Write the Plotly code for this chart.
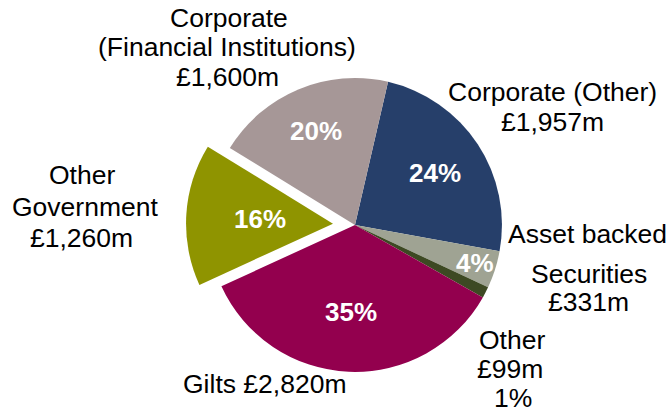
import math
import plotly.graph_objects as go

# ---- data ----
categories = ["Corporate (Other)", "Asset backed Securities", "Other", "Gilts",
              "Other Government", "Corporate (Financial Institutions)"]
values = [1957, 331, 99, 2820, 1260, 1600]
colors = ["#263F6A", "#9FA393", "#3D4923", "#93004E", "#8F9400", "#A69797"]
pulls = [0, 0, 0, 0, 0.15, 0]

W, H = 671, 416
ROT = 13
dom_x = [0.2772, 0.7809]
dom_y = [0.0529, 0.8654]
FONT = "Liberation Sans, Arial"

fig = go.Figure(go.Pie(
    labels=categories, values=values, sort=False, direction="clockwise",
    rotation=ROT, pull=pulls, textinfo="none", hoverinfo="label+value+percent",
    marker=dict(colors=colors, line=dict(width=0)),
    domain=dict(x=dom_x, y=dom_y), showlegend=False,
))

# pie geometry (mirrors plotly's own layout rules)
box_w = W * (dom_x[1] - dom_x[0])
box_h = H * (dom_y[1] - dom_y[0])
r = min(box_w, box_h) / (2 + 2 * max(pulls))
cx = W * (dom_x[0] + dom_x[1]) / 2
cy = H * (1 - dom_y[0]) - box_h / 2

total = sum(values)
radial = [0.65, 0.86, None, 0.59, 0.5, 0.69]
ann = []
ang = ROT
for v, p, f in zip(values, pulls, radial):
    span = 360 * v / total
    mid = math.radians(ang + span / 2)
    ang += span
    if f is None:
        continue
    d = (f + p) * r
    px = cx + d * math.sin(mid)
    py = cy - d * math.cos(mid)
    ann.append(dict(x=px / W, y=1 - py / H, xref="paper", yref="paper",
                    text=f"{round(100 * v / total)}%", showarrow=False,
                    xanchor="center", yanchor="middle",
                    font=dict(family=FONT, size=26, color="white", weight="bold")))

# outer labels: one annotation per line (text, x centre, y centre in px)
outer = [
    ("Corporate", 229, 18), ("(Financial Institutions)", 227, 47), ("£1,600m", 227, 77),
    ("Corporate (Other)", 552, 92), ("£1,957m", 552, 122),
    ("Asset backed", 587, 234), ("Securities", 589, 274), ("£331m", 588, 302),
    ("Other", 512, 340), ("£99m", 510, 369), ("1%", 513, 398),
    ("Gilts £2,820m", 265, 384),
    ("Other", 82, 175), ("Government", 85, 207), ("£1,260m", 81, 238),
]
for t, px, py in outer:
    ann.append(dict(x=px / W, y=1 - py / H, xref="paper", yref="paper", text=t,
                    showarrow=False, xanchor="center", yanchor="middle", align="center",
                    font=dict(family=FONT, size=26.5, color="black")))

fig.update_layout(width=W, height=H, margin=dict(l=0, r=0, t=0, b=0),
                  paper_bgcolor="white", plot_bgcolor="white", annotations=ann)
fig.write_html("out.html", config={"displayModeBar": False},
               post_script="document.body.style.margin='0';")
